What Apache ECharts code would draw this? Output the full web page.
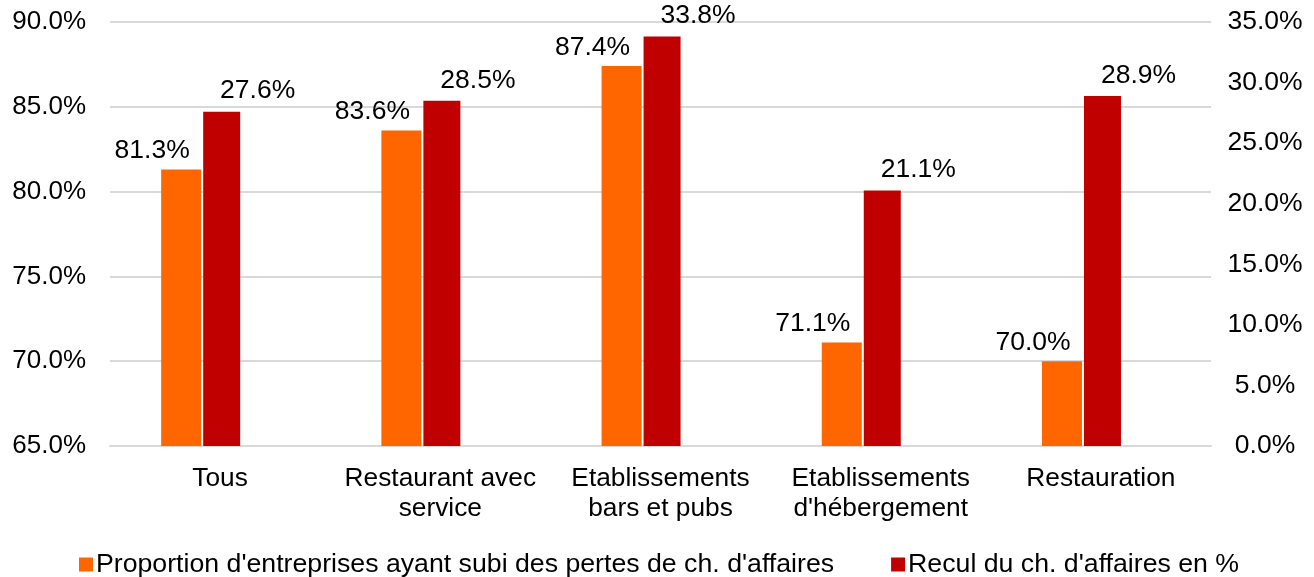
<!DOCTYPE html>
<html>
<head>
<meta charset="utf-8">
<script src="https://cdn.jsdelivr.net/npm/echarts@6/dist/echarts.min.js"></script>
<style>
  html, body { margin: 0; padding: 0; background: #fff; }
  #chart { width: 1314px; height: 577px; }
</style>
</head>
<body>
<div id="chart"></div>
<script>
const categories = ['Tous', 'Restaurant avec\nservice', 'Etablissements\nbars et pubs', 'Etablissements\nd\'hébergement', 'Restauration'];
const proportionValues = [81.3, 83.6, 87.4, 71.1, 70.0];
const reculValues = [27.6, 28.5, 33.8, 21.1, 28.9];
// the source chart keeps an empty third slot in each group, so the bar pairs sit left of centre
const emptySlot = [null, null, null, null, null];
const seriesNames = ['Proportion d\'entreprises ayant subi des pertes de ch. d\'affaires', 'Recul du ch. d\'affaires en %'];

const chart = echarts.init(document.getElementById('chart'));
const font = 'Liberation Sans, Arial, sans-serif';
const pct = v => v.toFixed(1) + '%';

chart.setOption({
    backgroundColor: '#ffffff',
    animation: false,
    textStyle: { fontFamily: font },
    grid: { left: 110, right: 103, top: 22, bottom: 131 },
    legend: {
        left: 74,
        top: 546,
        itemWidth: 14,
        itemHeight: 14,
        itemGap: 57,
        icon: 'rect',
        textStyle: { fontSize: 26.7, color: '#000', fontFamily: font, padding: [0, 0, 0, -2] },
        data: seriesNames
    },
    xAxis: {
        type: 'category',
        data: categories,
        axisTick: { show: false },
        axisLine: { lineStyle: { color: '#d9d9d9', width: 2 } },
        axisLabel: { color: '#000', fontSize: 26.3, lineHeight: 30, margin: 18, interval: 0, fontFamily: font }
    },
    yAxis: [
        {
            type: 'value',
            min: 65, max: 90, interval: 5,
            axisLine: { show: false },
            axisTick: { show: false },
            splitLine: { lineStyle: { color: '#d9d9d9', width: 2 } },
            axisLabel: { color: '#000', fontSize: 26, margin: 24, formatter: pct, fontFamily: font }
        },
        {
            type: 'value',
            min: 0, max: 35, interval: 5,
            axisLine: { show: false },
            axisTick: { show: false },
            splitLine: { show: false },
            axisLabel: { color: '#000', fontSize: 26.5, margin: 54, align: 'center', formatter: pct, fontFamily: font }
        }
    ],
    series: [
        {
            name: seriesNames[0],
            type: 'bar',
            yAxisIndex: 0,
            data: proportionValues,
            barWidth: 40,
            barGap: '5%',
            itemStyle: { color: '#ff6600' },
            label: {
                show: true, position: 'top', distance: 5, offset: [-29, 0],
                color: '#000', fontSize: 26.5, fontFamily: font,
                formatter: p => pct(p.value)
            }
        },
        {
            name: seriesNames[1],
            type: 'bar',
            yAxisIndex: 1,
            data: reculValues,
            barWidth: 37,
            itemStyle: { color: '#c00000' },
            label: {
                show: true, position: 'top', distance: 7, offset: [36, 0],
                color: '#000', fontSize: 26.5, fontFamily: font,
                formatter: p => pct(p.value)
            }
        },
        {
            name: 'empty',
            type: 'bar',
            yAxisIndex: 1,
            data: emptySlot,
            barWidth: 37,
            silent: true
        }
    ]
});
</script>
</body>
</html>
